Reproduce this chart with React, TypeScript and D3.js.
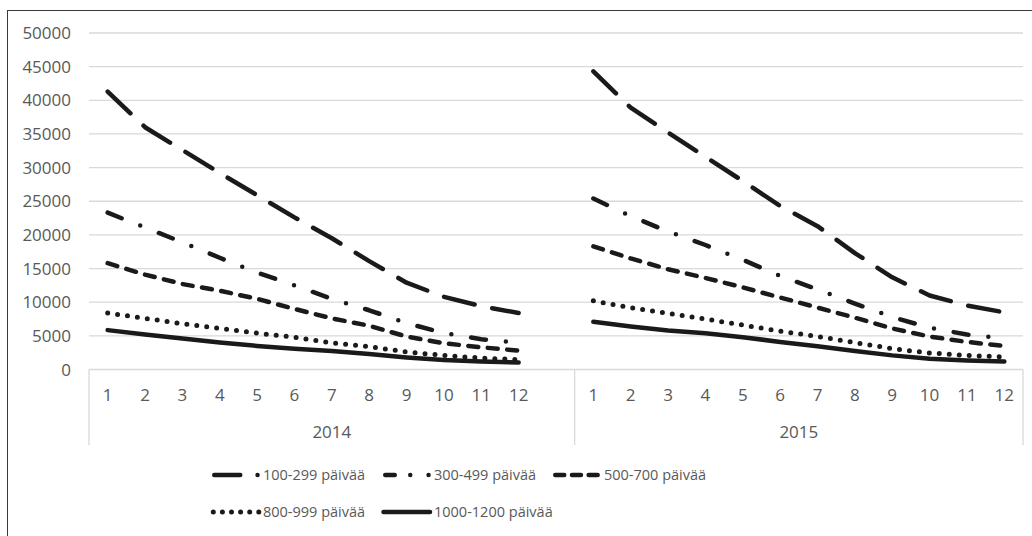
import React from 'react';
import * as d3 from 'd3';

const years = ['2014', '2015'];
const months = ['1', '2', '3', '4', '5', '6', '7', '8', '9', '10', '11', '12'];
const yTicks = [0, 5000, 10000, 15000, 20000, 25000, 30000, 35000, 40000, 45000, 50000];
const seriesNames = ['100-299 päivää', '300-499 päivää', '500-700 päivää', '800-999 päivää', '1000-1200 päivää'];

const d100_2014 = [41300, 36000, 32600, 29200, 25900, 22600, 19500, 16100, 12900, 10800, 9400, 8400];
const d100_2015 = [44300, 38900, 35200, 31600, 28000, 24300, 21300, 17300, 13700, 11000, 9500, 8500];
const d300_2014 = [23300, 21100, 18900, 16600, 14400, 12500, 10500, 8800, 6900, 5400, 4500, 4000];
const d300_2015 = [25400, 22800, 20500, 18500, 16300, 13900, 11900, 9800, 7800, 6200, 5200, 4600];
const d500_2014 = [15800, 14100, 12700, 11700, 10500, 9000, 7600, 6500, 4900, 3900, 3300, 2800];
const d500_2015 = [18300, 16500, 14900, 13600, 12200, 10700, 9200, 7700, 6100, 4900, 4100, 3500];
const d800_2014 = [8400, 7600, 6800, 6100, 5400, 4800, 3950, 3400, 2600, 2100, 1700, 1450];
const d800_2015 = [10200, 9200, 8350, 7500, 6600, 5700, 4900, 4000, 3100, 2450, 2100, 1850];
const d1000_2014 = [5850, 5200, 4600, 4000, 3500, 3100, 2750, 2300, 1800, 1400, 1200, 1050];
const d1000_2015 = [7100, 6400, 5800, 5400, 4800, 4100, 3450, 2750, 2100, 1600, 1350, 1200];

const seriesData = [
  [d100_2014, d100_2015],
  [d300_2014, d300_2015],
  [d500_2014, d500_2015],
  [d800_2014, d800_2015],
  [d1000_2014, d1000_2015],
];

// styles (round caps; dash lengths compensate for cap)
const widths = [4.5, 4.5, 4.5, 5, 4.5];
const plotDash = ['31.5,18', '15,20,0,20', '10,9.5', '0,10', 'none'];
const legendDash = ['26,17.3,0,100', '9.5,15.5,0,18.3,0,100', '9,7.7', '0,9.1', 'none'];
const legendStart = [2.25, 2.25, 2.25, 1.3, 0.5];
const legendEnd = [48, 48, 45, 47.5, 47];

const FONT = "'Open Sans', 'DejaVu Sans', sans-serif";
const TXT = '#595959';
const GRID = '#d9d9d9';

export default function App() {
  const left = 89, right = 1023, top = 33, bottom = 369.5;
  // 2014 group holds a 13th empty category
  const cats: string[] = [];
  months.forEach((m) => cats.push('2014-' + m));
  cats.push('2014-blank');
  months.forEach((m) => cats.push('2015-' + m));
  const x = d3.scaleBand<string>().domain(cats).range([left, right]).padding(0);
  const cx = (k: string) => (x(k) as number) + x.bandwidth() / 2;
  const y = d3.scaleLinear().domain([0, 50000]).range([bottom, top]);

  const groupBounds = [
    [left, x('2014-blank')! + x.bandwidth()],
    [x('2015-1')!, right],
  ];

  const paths: JSX.Element[] = [];
  seriesData.forEach((pair, si) => {
    pair.forEach((vals, yi) => {
      const yr = years[yi];
      const gen = d3.line<number>().x((_, i) => cx(yr + '-' + months[i])).y((d) => y(d));
      paths.push(
        <path key={si + '-' + yi} d={gen(vals) || ''} fill="none" stroke="#1a1a1a" strokeWidth={widths[si]}
          strokeLinecap="round" strokeLinejoin="round" strokeDasharray={plotDash[si]} />
      );
    });
  });

  const legendPos = [
    [212, 475], [383, 475], [553, 475], [212, 512], [383, 512],
  ];

  return (
    <svg width={1032} height={536} style={{ position: 'absolute', left: 0, top: 0, background: '#fff' }}
      fontFamily={FONT}>
      <rect x={0} y={0} width={1032} height={536} fill="#fff" />
      <rect x={7.5} y={10.5} width={1030} height={535} fill="none" stroke="#3a3a3a" strokeWidth={1} />
      {yTicks.map((t) => (
        <g key={t}>
          <line x1={left} x2={right} y1={y(t)} y2={y(t)} stroke={GRID} strokeWidth={1.3} />
          <text x={71} y={y(t)} dy="0.36em" textAnchor="end" fontSize={17} fill={TXT}>{t}</text>
        </g>
      ))}
      {[left, groupBounds[1][0], right].map((xx, i) => (
        <line key={i} x1={xx} x2={xx} y1={bottom} y2={445} stroke={GRID} strokeWidth={1.3} />
      ))}
      {years.map((yr) =>
        months.map((m) => (
          <text key={yr + m} x={cx(yr + '-' + m)} y={394.5} dy="0.36em" textAnchor="middle" fontSize={17} fill={TXT}>{m}</text>
        ))
      )}
      {years.map((yr, i) => (
        <text key={yr} x={(groupBounds[i][0] + groupBounds[i][1]) / 2} y={431.5} dy="0.36em" textAnchor="middle" fontSize={17} fill={TXT}>{yr}</text>
      ))}
      {paths}
      {seriesNames.map((name, i) => {
        const [lx, ly] = legendPos[i];
        return (
          <g key={name}>
            <line x1={lx + legendStart[i]} x2={lx + legendEnd[i]} y1={ly} y2={ly} stroke="#1a1a1a" strokeWidth={widths[i]}
              strokeLinecap="round" strokeDasharray={legendDash[i]} />
            <text x={lx + 51} y={ly} dy="0.36em" fontSize={14.5} fill={TXT}>{name}</text>
          </g>
        );
      })}
    </svg>
  );
}
